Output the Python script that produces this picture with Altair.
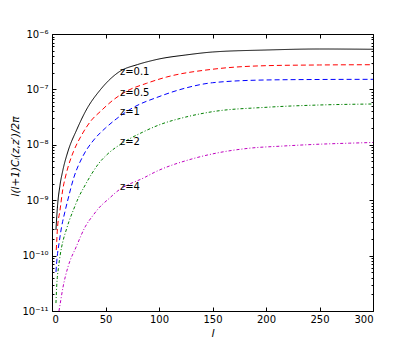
import altair as alt
import pandas as pd

# ---- data ----
z_names = ["z=0.1", "z=0.5", "z=1", "z=2", "z=4"]
colors = ["#000000", "#ff0000", "#0000ff", "#008000", "#bf00bf"]
dashes = [[1, 0], [5, 3], [5, 3], [3, 2, 1, 2], [3, 2, 1, 2]]

l_z01 = [3.7, 5, 7.5, 10, 15, 23, 32, 45, 63, 80, 92, 100, 125, 150, 200, 250, 300]
v_z01 = [2.9e-10, 7.2e-10, 1.88e-9, 3.37e-9, 7.7e-9, 1.85e-8, 4.25e-8, 9.75e-8, 2.09e-7,
         2.81e-7, 3.26e-7, 3.54e-7, 4.18e-7, 4.73e-7, 5.14e-7, 5.36e-7, 5.3e-7]

l_z05 = [4, 4.4, 5, 7.5, 10, 13, 15, 20, 27.7, 37, 45, 57, 70, 88.5, 107, 150, 200, 250, 300]
v_z05 = [1.26e-10, 1.78e-10, 2.9e-10, 6.65e-10, 1.53e-9, 2.85e-9, 3.97e-9, 7.5e-9, 1.5e-8,
         2.8e-8, 3.96e-8, 6.4e-8, 9.35e-8, 1.29e-7, 1.67e-7, 2.31e-7, 2.68e-7, 2.76e-7, 2.79e-7]

l_z1 = [3.7, 4.4, 6.8, 9, 12, 15, 20, 29, 39, 50, 60, 75, 100, 125, 150, 200, 250, 300]
v_z1 = [5.06e-11, 7.7e-11, 1.78e-10, 3.33e-10, 6.1e-10, 1.05e-9, 2.42e-9, 6.3e-9, 1.22e-8,
        2.01e-8, 2.92e-8, 4.6e-8, 7.4e-8, 1.06e-7, 1.32e-7, 1.48e-7, 1.51e-7, 1.52e-7]

l_z2 = [3.7, 4.4, 6, 7.5, 9, 11, 13, 16, 20, 25, 30, 37, 44, 51, 68, 85, 100, 125, 150,
        200, 250, 300]
v_z2 = [1.39e-11, 2.82e-11, 5.97e-11, 9.8e-11, 1.43e-10, 2.08e-10, 2.78e-10, 4.21e-10,
        6.66e-10, 1.14e-9, 1.73e-9, 2.97e-9, 4.69e-9, 6.54e-9, 1.14e-8, 1.7e-8, 2.28e-8,
        3.17e-8, 3.96e-8, 4.75e-8, 5.23e-8, 5.45e-8]

l_z4 = [6.5, 7.2, 10.3, 15, 22.7, 31, 38.6, 44, 54, 60, 87, 96, 130, 154, 185, 216, 247,
        278, 300]
v_z4 = [1e-11, 1.2e-11, 2.7e-11, 6.3e-11, 1.45e-10, 3.3e-10, 5.4e-10, 7.3e-10, 1.1e-9,
        1.4e-9, 2.6e-9, 3.2e-9, 5.5e-9, 7.1e-9, 8.7e-9, 9.5e-9, 1.02e-8, 1.07e-8, 1.1e-8]

label_l = [63.5, 63.5, 63.5, 63.5, 63.5]
label_v = [2.09e-7, 8.7e-8, 3.95e-8, 1.14e-8, 1.75e-9]

x_ticks = [0, 50, 100, 150, 200, 250, 300]
y_ticks = [1e-11, 1e-10, 1e-9, 1e-8, 1e-7, 1e-6]
y_tick_labels = ["10\u207b\u00b9\u00b9", "10\u207b\u00b9\u2070", "10\u207b\u2079",
                 "10\u207b\u2078", "10\u207b\u2077", "10\u207b\u2076"]
y_minor = [m * 10.0 ** e for e in range(-11, -6) for m in range(2, 10)]

# ---- build tables ----
rows = []
for name, ls, vs in zip(z_names, [l_z01, l_z05, l_z1, l_z2, l_z4],
                        [v_z01, v_z05, v_z1, v_z2, v_z4]):
    for l, v in zip(ls, vs):
        rows.append({"z": name, "l": l, "v": v})
df = pd.DataFrame(rows)
lab = pd.DataFrame({"t": z_names, "l": label_l, "v": label_v})

W, H = 321, 277
FONT = "DejaVu Sans"
xscale = alt.Scale(domain=[0, 300], nice=False, zero=False)
yscale = alt.Scale(type="log", domain=[1e-11, 1e-6], nice=False)

label_js = "[" + ",".join("'" + s + "'" for s in y_tick_labels) + "]"
is_major = "abs(log(datum.value)/LN10 - round(log(datum.value)/LN10)) < 0.001"
tick_sz = {"condition": {"test": is_major, "value": 4}, "value": 2}

ax_x_lab = alt.Axis(orient="bottom", values=x_ticks, ticks=False, domain=False, grid=False,
                    labelFont=FONT, labelFontSize=10, labelColor="black", labelPadding=3,
                    title="l", titleFont=FONT, titleFontStyle="italic", titleFontWeight="normal",
                    titleFontSize=11, titleColor="black", titlePadding=3)
ax_y_lab = alt.Axis(orient="left", values=y_ticks, ticks=False, domain=False, grid=False,
                    labelExpr=label_js + "[round(log(datum.value)/LN10)+11]",
                    labelFont=FONT, labelFontSize=10, labelColor="black", labelPadding=4,
                    title="l(l+1)C\u2097(z,z\u2032)/2\u03c0", titleFont=FONT,
                    titleFontStyle="italic", titleFontWeight="normal", titleFontSize=10.5,
                    titleColor="black", titleAngle=-90, titleX=-37, titleY=122,
                    titleAlign="center", titleBaseline="middle")

ax_x_in_bottom = alt.Axis(orient="top", offset=-H, values=x_ticks, labels=False, domain=False,
                          grid=False, tickSize=4, tickColor="black", tickWidth=1, title=None)
ax_x_in_top = alt.Axis(orient="bottom", offset=-H, values=x_ticks, labels=False, domain=False,
                       grid=False, tickSize=4, tickColor="black", tickWidth=1, title=None)
ax_y_in_left = alt.Axis(orient="right", offset=-W, values=y_ticks + y_minor, labels=False,
                        domain=False, grid=False, tickSize=tick_sz, tickColor="black",
                        tickWidth=1, title=None)
ax_y_in_right = alt.Axis(orient="left", offset=-W, values=y_ticks + y_minor, labels=False,
                         domain=False, grid=False, tickSize=tick_sz, tickColor="black",
                         tickWidth=1, title=None)

lines = alt.Chart(df).mark_line(clip=True, strokeWidth=1, interpolate="monotone").encode(
    x=alt.X("l:Q", scale=xscale, axis=ax_x_lab),
    y=alt.Y("v:Q", scale=yscale, axis=ax_y_lab),
    color=alt.Color("z:N", scale=alt.Scale(domain=z_names, range=colors), legend=None),
    strokeDash=alt.StrokeDash("z:N", scale=alt.Scale(domain=z_names, range=dashes), legend=None),
)

texts = alt.Chart(lab).mark_text(align="left", baseline="middle", font=FONT, fontSize=10,
                                 color="black").encode(
    x=alt.X("l:Q", scale=xscale, axis=ax_x_in_bottom),
    y=alt.Y("v:Q", scale=yscale, axis=ax_y_in_left),
    text="t:N",
)

ghost = alt.Chart(lab).mark_point(opacity=0).encode(
    x=alt.X("l:Q", scale=xscale, axis=ax_x_in_top),
    y=alt.Y("v:Q", scale=yscale, axis=ax_y_in_right),
)

chart = alt.layer(lines, texts, ghost).resolve_axis(
    x="independent", y="independent"
).properties(
    width=W, height=H,
    autosize=alt.AutoSizeParams(type="none"),
    padding={"left": 44, "top": 26, "right": 30, "bottom": 27},
    background="white",
).configure_view(stroke="black", strokeWidth=1)

chart.save("out.html", embed_options={"renderer": "svg", "actions": False})
